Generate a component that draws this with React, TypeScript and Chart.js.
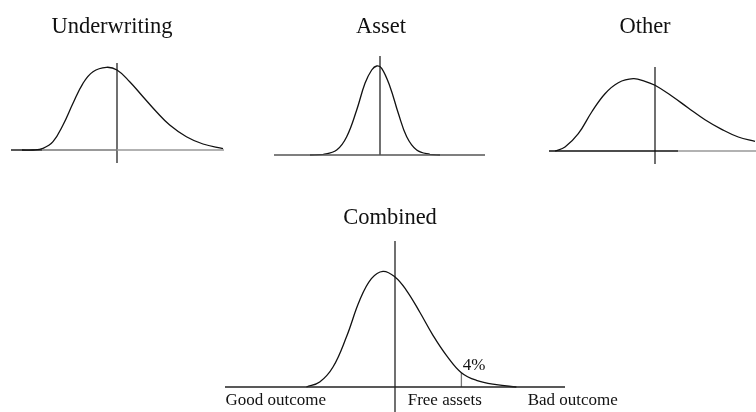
import React, { useEffect, useRef } from "react";
import { Chart, registerables } from "chart.js";

Chart.register(...registerables);

// ---- Data (x relative to the vertical reference line, y = height above baseline) ----
const underwritingX = [-95, -84, -74, -64, -54, -44, -34, -24, -10.6, 0, 12.7, 26, 39.4, 52.7, 69.4, 86, 106];
const underwritingY = [0, 0, 1.7, 8.3, 25, 46.7, 66.7, 78.3, 82.7, 80, 68.3, 53.3, 38.3, 25, 13.3, 6, 1.3];

const assetX = [-70, -56.7, -43.3, -33.3, -23.3, -15, -8.3, -3.3, 1.7, 10, 18.3, 26.7, 36.7, 50, 60];
const assetY = [0, 0.7, 5, 18.3, 45, 71.7, 85, 89, 86.7, 68.3, 41.7, 18.3, 5, 0.7, 0];

const otherX = [-100, -90, -76.7, -63.3, -50, -36.7, -21.7, -10, 0, 16.7, 33.3, 50, 66.7, 83.3, 100];
const otherY = [0, 4, 17.3, 39, 57.3, 68.3, 72.3, 69.7, 65.7, 55, 43, 31.3, 21.7, 14, 9.7];

const combinedX = [-88.6, -75.3, -62, -48.6, -35.3, -23.6, -12, 0, 11.4, 24.7, 38, 51.4, 66.4, 81.4, 101.4, 121.4];
const combinedY = [0, 5, 20, 50, 86.7, 108.3, 115.7, 110, 96.7, 75, 51.7, 31.7, 14.3, 6.7, 2.3, 0];

const tailMarkerX = 66.4;
const tailMarkerY = 14.3;

const panelTitles = ["Underwriting", "Asset", "Other", "Combined"];
const axisLabels = ["Good outcome", "Free assets", "Bad outcome"];
const tailLabel = "4%";

// ---- Panel configs ----
type TextItem = { text: string; x: number; y: number; align: CanvasTextAlign; font: string };

const TITLE_FONT = '22.5px "Liberation Serif", "Times New Roman", serif';
const LABEL_FONT = '17px "Liberation Serif", "Times New Roman", serif';

interface Panel {
  xs: number[];
  ys: number[];
  xRange: [number, number];
  yRange: [number, number];
  padding: { left: number; right: number; top: number; bottom: number };
  vLine: [number, number];
  baseStops: number[];
  baseColors: string[];
  texts: TextItem[];
  marker?: boolean;
}

const panels: Panel[] = [
  {
    xs: underwritingX,
    ys: underwritingY,
    xRange: [-106, 107],
    yRange: [-13, 87],
    padding: { left: 11, right: 532, top: 63, bottom: 249 },
    vLine: [-13, 87],
    baseStops: [-106, -75, 0, 107],
    baseColors: ["#111", "#777", "#999"],
    texts: [{ text: panelTitles[0], x: -5, y: 117, align: "center", font: TITLE_FONT }],
  },
  {
    xs: assetX,
    ys: assetY,
    xRange: [-106, 105],
    yRange: [0, 99],
    padding: { left: 274, right: 271, top: 56, bottom: 257 },
    vLine: [0, 99],
    baseStops: [-106, 105],
    baseColors: ["#555"],
    texts: [{ text: panelTitles[1], x: 1, y: 122, align: "center", font: TITLE_FONT }],
  },
  {
    xs: otherX,
    ys: otherY,
    xRange: [-106, 101],
    yRange: [-13, 84],
    padding: { left: 549, right: 0, top: 67, bottom: 248 },
    vLine: [-13, 84],
    baseStops: [-106, 23, 101],
    baseColors: ["#111", "#999"],
    texts: [{ text: panelTitles[2], x: -10, y: 118, align: "center", font: TITLE_FONT }],
  },
  {
    xs: combinedX,
    ys: combinedY,
    xRange: [-170, 170],
    yRange: [-25, 146],
    padding: { left: 225, right: 191, top: 241, bottom: 0 },
    vLine: [-25, 146],
    baseStops: [-170, 170],
    baseColors: ["#222"],
    marker: true,
    texts: [
      { text: panelTitles[3], x: -5, y: 163, align: "center", font: TITLE_FONT },
      { text: axisLabels[0], x: -169.5, y: -17.5, align: "left", font: LABEL_FONT },
      { text: axisLabels[1], x: 12.7, y: -17.5, align: "left", font: LABEL_FONT },
      { text: axisLabels[2], x: 132.7, y: -17.5, align: "left", font: LABEL_FONT },
      { text: tailLabel, x: 67.7, y: 17.4, align: "left", font: LABEL_FONT },
    ],
  },
];

function textPlugin(items: TextItem[]) {
  return {
    id: "panelText",
    afterDraw(chart: any) {
      const ctx = chart.ctx as CanvasRenderingContext2D;
      const xs = chart.scales.x;
      const ys = chart.scales.y;
      ctx.save();
      ctx.fillStyle = "#111";
      ctx.textBaseline = "alphabetic";
      for (const it of items) {
        ctx.font = it.font;
        ctx.textAlign = it.align;
        ctx.fillText(it.text, xs.getPixelForValue(it.x), ys.getPixelForValue(it.y));
      }
      ctx.restore();
    },
  };
}

function buildChart(canvas: HTMLCanvasElement, p: Panel) {
  const common = { pointRadius: 0, fill: false, clip: false as any };
  const datasets: any[] = [
    {
      ...common,
      data: p.baseStops.map((x) => ({ x, y: 0 })),
      borderColor: p.baseColors[0],
      borderWidth: 1.4,
      segment: { borderColor: (ctx: any) => p.baseColors[ctx.p0DataIndex] || p.baseColors[0] },
      tension: 0,
    },
    {
      ...common,
      data: p.xs.map((x, i) => ({ x, y: p.ys[i] })),
      borderColor: "#111",
      borderWidth: 1.3,
      tension: 0.4,
    },
    {
      ...common,
      data: [
        { x: 0, y: p.vLine[0] },
        { x: 0, y: p.vLine[1] },
      ],
      borderColor: "#111",
      borderWidth: 1.2,
      tension: 0,
    },
  ];
  if (p.marker) {
    datasets.push({
      ...common,
      data: [
        { x: tailMarkerX, y: 0 },
        { x: tailMarkerX, y: tailMarkerY },
      ],
      borderColor: "#777",
      borderWidth: 1.3,
      tension: 0,
    });
  }
  return new Chart(canvas, {
    type: "line",
    data: { datasets },
    options: {
      animation: false,
      responsive: false,
      devicePixelRatio: 1,
      layout: { padding: p.padding },
      events: [],
      scales: {
        x: { type: "linear", min: p.xRange[0], max: p.xRange[1], display: false },
        y: { type: "linear", min: p.yRange[0], max: p.yRange[1], display: false },
      },
      plugins: { legend: { display: false }, tooltip: { enabled: false }, title: { display: false } },
    },
    plugins: [textPlugin(p.texts)],
  });
}

export default function App() {
  const refs = useRef<(HTMLCanvasElement | null)[]>([]);
  useEffect(() => {
    const charts = panels.map((p, i) => buildChart(refs.current[i] as HTMLCanvasElement, p));
    return () => charts.forEach((c) => c.destroy());
  }, []);
  return (
    <div style={{ position: "fixed", left: 0, top: 0, width: 756, height: 412, background: "#fff", overflow: "hidden" }}>
      {panels.map((_, i) => (
        <canvas
          key={i}
          ref={(el) => {
            refs.current[i] = el;
          }}
          width={756}
          height={412}
          style={{ position: "absolute", left: 0, top: 0, width: 756, height: 412 }}
        />
      ))}
    </div>
  );
}
